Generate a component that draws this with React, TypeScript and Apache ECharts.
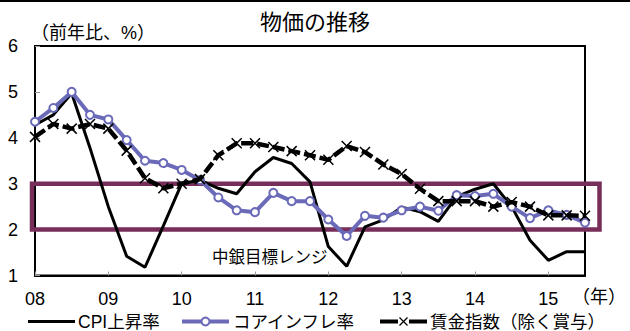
import React, { useEffect, useRef } from "react";
import * as echarts from "echarts";

const categories = [
  "2008Q1", "2008Q2", "2008Q3", "2008Q4",
  "2009Q1", "2009Q2", "2009Q3", "2009Q4",
  "2010Q1", "2010Q2", "2010Q3", "2010Q4",
  "2011Q1", "2011Q2", "2011Q3", "2011Q4",
  "2012Q1", "2012Q2", "2012Q3", "2012Q4",
  "2013Q1", "2013Q2", "2013Q3", "2013Q4",
  "2014Q1", "2014Q2", "2014Q3", "2014Q4",
  "2015Q1", "2015Q2", "2015Q3",
];

const cpi = [
  4.28, 4.5, 4.97, 3.78, 2.5, 1.42, 1.18, 2.08,
  3.0, 3.08, 2.9, 2.78, 3.26, 3.57, 3.44, 3.04,
  1.63, 1.2, 2.06, 2.21, 2.49, 2.39, 2.18, 2.72,
  2.88, 3.0, 2.5, 1.77, 1.33, 1.52, 1.52,
];

const core = [
  4.35, 4.65, 5.0, 4.5, 4.4, 3.95, 3.5, 3.45,
  3.3, 3.08, 2.7, 2.42, 2.38, 2.8, 2.62, 2.62,
  2.22, 1.86, 2.3, 2.26, 2.42, 2.5, 2.41, 2.75,
  2.73, 2.78, 2.5, 2.25, 2.42, 2.32, 2.15,
];

const wage = [
  4.02, 4.3, 4.2, 4.3, 4.2, 3.72, 3.12, 2.9,
  3.0, 3.1, 3.62, 3.88, 3.88, 3.8, 3.71, 3.62,
  3.52, 3.82, 3.69, 3.42, 3.21, 2.89, 2.62, 2.62,
  2.62, 2.5, 2.6, 2.5, 2.31, 2.31, 2.3,
];

const seriesNames = ["CPI上昇率", "コアインフレ率", "賃金指数（除く賞与）"];
const targetRange = [2, 3];

const FONT = "'Liberation Sans', Arial, 'Noto Sans CJK JP', sans-serif";
const BLUE = "#6A6AB9";

export default function App() {
  const ref = useRef<HTMLDivElement>(null);

  useEffect(() => {
    document.body.style.margin = "0";
    if (!ref.current) return;
    const chart = echarts.init(ref.current, null, { renderer: "svg" });
    const gridLeft = 35;
    const gridRight = 45;
    const gridTop = 46;
    const gridBottom = 55.5;

    chart.setOption({
      animation: false,
      backgroundColor: "#fff",
      textStyle: { fontFamily: FONT },
      grid: {
        left: gridLeft,
        right: gridRight,
        top: gridTop,
        bottom: gridBottom,
        show: true,
        borderColor: "#000",
        borderWidth: 2,
        backgroundColor: "transparent",
      },
      xAxis: {
        type: "category",
        data: categories,
        boundaryGap: false,
        axisLine: { lineStyle: { color: "#000", width: 2 } },
        axisTick: {
          show: true,
          inside: true,
          length: 4,
          interval: 3,
          lineStyle: { color: "#999", width: 1 },
        },
        axisLabel: {
          interval: 3,
          margin: 14,
          color: "#000",
          fontSize: 18,
          fontFamily: FONT,
          formatter: (v: string) => v.slice(2, 4),
        },
        splitLine: { show: false },
      },
      yAxis: {
        type: "value",
        min: 1,
        max: 6,
        interval: 1,
        axisLine: { show: true, lineStyle: { color: "#000", width: 2 } },
        axisTick: {
          show: true,
          inside: true,
          length: 5,
          lineStyle: { color: "#999", width: 1 },
        },
        axisLabel: {
          margin: 17,
          color: "#000",
          fontSize: 18,
          fontFamily: FONT,
        },
        splitLine: { show: false },
      },
      legend: { show: false },
      series: [
        {
          name: seriesNames[0],
          type: "line",
          data: cpi,
          symbol: "none",
          lineStyle: { color: "#000", width: 3 },
          itemStyle: { color: "#000" },
          z: 3,
        },
        {
          name: seriesNames[1],
          type: "line",
          data: core,
          symbol: "circle",
          symbolSize: 8,
          lineStyle: { color: BLUE, width: 4 },
          itemStyle: { color: "#fff", borderColor: BLUE, borderWidth: 2 },
          z: 4,
        },
        {
          name: seriesNames[2],
          type: "line",
          data: wage,
          symbol: "path://M0 0L10 10M10 0L0 10",
          symbolSize: 10,
          lineStyle: { color: "#000", width: 4.5, type: [12, 4] },
          itemStyle: { color: "transparent", borderColor: "#000", borderWidth: 1.5 },
          z: 5,
        },
      ],
    });

    const yTop = chart.convertToPixel({ yAxisIndex: 0 }, targetRange[1]) as number;
    const yBot = chart.convertToPixel({ yAxisIndex: 0 }, targetRange[0]) as number;
    const plotRight = 630 - gridRight;
    const ly = 321.5;

    const legendText = (x: number, text: string) => ({
      type: "text",
      x,
      y: ly,
      style: { text, fontSize: 17.5, fill: "#000", fontFamily: FONT, verticalAlign: "middle" },
    });

    chart.setOption({
      graphic: [
        {
          type: "line",
          shape: { x1: 0, y1: 1, x2: 630, y2: 1 },
          style: { stroke: "#000", lineWidth: 2 },
        },
        {
          type: "rect",
          z: 1,
          shape: { x: gridLeft - 3, y: yTop, width: plotRight + 14.5 - (gridLeft - 3), height: yBot - yTop },
          style: { fill: "none", stroke: "#772E5A", lineWidth: 4.5 },
        },
        {
          type: "text",
          left: "center",
          top: 11,
          style: { text: "物価の推移", fontSize: 22, fill: "#000", fontFamily: FONT },
        },
        {
          type: "text",
          x: 31,
          y: 24,
          style: { text: "（前年比、%）", fontSize: 18, fill: "#000", fontFamily: FONT },
        },
        {
          type: "text",
          x: 212,
          y: 249,
          z: 10,
          style: { text: "中銀目標レンジ", fontSize: 16.5, fill: "#000", fontFamily: FONT },
        },
        {
          type: "text",
          x: 572,
          y: 288,
          style: { text: "（年）", fontSize: 18, fill: "#000", fontFamily: FONT },
        },
        // legend: CPI
        {
          type: "line",
          shape: { x1: 28, y1: ly, x2: 75, y2: ly },
          style: { stroke: "#000", lineWidth: 3 },
        },
        legendText(78, seriesNames[0]),
        // legend: core
        {
          type: "line",
          shape: { x1: 182, y1: ly, x2: 229, y2: ly },
          style: { stroke: BLUE, lineWidth: 4 },
        },
        {
          type: "circle",
          shape: { cx: 205.5, cy: ly, r: 4 },
          style: { fill: "#fff", stroke: BLUE, lineWidth: 2 },
        },
        legendText(233, seriesNames[1]),
        // legend: wage
        {
          type: "line",
          shape: { x1: 380, y1: ly, x2: 398, y2: ly },
          style: { stroke: "#000", lineWidth: 4 },
        },
        {
          type: "line",
          shape: { x1: 409, y1: ly, x2: 427, y2: ly },
          style: { stroke: "#000", lineWidth: 4 },
        },
        {
          type: "line",
          shape: { x1: 399.5, y1: ly - 4, x2: 407.5, y2: ly + 4 },
          style: { stroke: "#000", lineWidth: 1.2 },
        },
        {
          type: "line",
          shape: { x1: 407.5, y1: ly - 4, x2: 399.5, y2: ly + 4 },
          style: { stroke: "#000", lineWidth: 1.2 },
        },
        legendText(430, seriesNames[2]),
      ],
    });

    return () => chart.dispose();
  }, []);

  return <div ref={ref} style={{ width: 630, height: 331 }} />;
}
